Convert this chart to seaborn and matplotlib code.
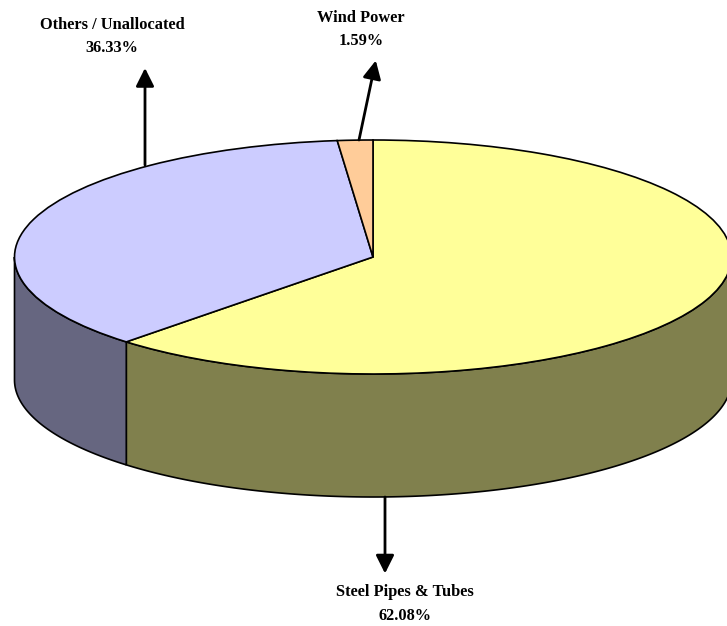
import numpy as np
import matplotlib
matplotlib.use("Agg")
import matplotlib.pyplot as plt
import seaborn as sns

labels = ["Steel Pipes & Tubes", "Others / Unallocated", "Wind Power"]
shares = [62.08, 36.33, 1.59]
top_colors = ["#FFFF99", "#CCCCFF", "#FFCC99"]
side_colors = ["#80804D", "#666680", "#806650"]

W, H = 727, 626
sns.set_theme(style="white")
plt.rcParams["font.family"] = ["Liberation Serif", "DejaVu Serif"]

CX, CY, RX, RY, DEPTH = 373.0, 257.0, 358.5, 117.0, 123.0
fig = plt.figure(figsize=(W / 100, H / 100), dpi=100)
ax = fig.add_axes([0, 0, 1, 1])

# Top face: an ordinary pie squashed by anisotropic limits
ax.pie(shares, colors=top_colors, startangle=90, counterclock=False,
       wedgeprops=dict(edgecolor="black", linewidth=1.2, zorder=3))
ax.set_aspect("auto")
ax.set_xlim(-CX / RX, (W - CX) / RX)
ax.set_ylim((CY - H) / RY, CY / RY)
ax.axis("off")

# Side walls follow the same shares
depth = DEPTH / RY
edges = np.cumsum([0] + shares) / 100 * 2 * np.pi
for i in range(len(shares)):
    a0, a1 = edges[i], edges[i + 1]
    lo, hi = max(a0, np.pi / 2), min(a1, 3 * np.pi / 2)
    if lo >= hi:
        continue
    t = np.linspace(lo, hi, 200)
    x, y = np.sin(t), np.cos(t)
    ax.fill(np.r_[x, x[::-1]], np.r_[y, y[::-1] - depth],
            facecolor=side_colors[i], edgecolor="black", linewidth=1.2, zorder=2)


def px(x, y):
    return (x - CX) / RX, (CY - y) / RY


arrows = {
    "Others / Unallocated": ((145, 165), (145, 68)),
    "Wind Power": ((359, 140), (375.8, 60.5)),
    "Steel Pipes & Tubes": ((385, 497), (385, 573.5)),
}
for name, (start, end) in arrows.items():
    ax.annotate("", xy=px(*end), xytext=px(*start), annotation_clip=False,
                arrowprops=dict(arrowstyle="-|>,head_width=0.55,head_length=1.1",
                                mutation_scale=10, color="black", lw=2.0,
                                shrinkA=0, shrinkB=0), zorder=4)

label_pos = {
    "Others / Unallocated": (112, 36.5),
    "Wind Power": (361, 29.5),
    "Steel Pipes & Tubes": (404.5, 604),
}
for name, share in zip(labels, shares):
    x, y = label_pos[name]
    ax.text(*px(x, y), f"{name}\n{share:.2f}%", ha="center", va="center",
            fontsize=11.8, fontweight="bold", color="black", linespacing=1.62)

fig.savefig("out.png", dpi=100)
